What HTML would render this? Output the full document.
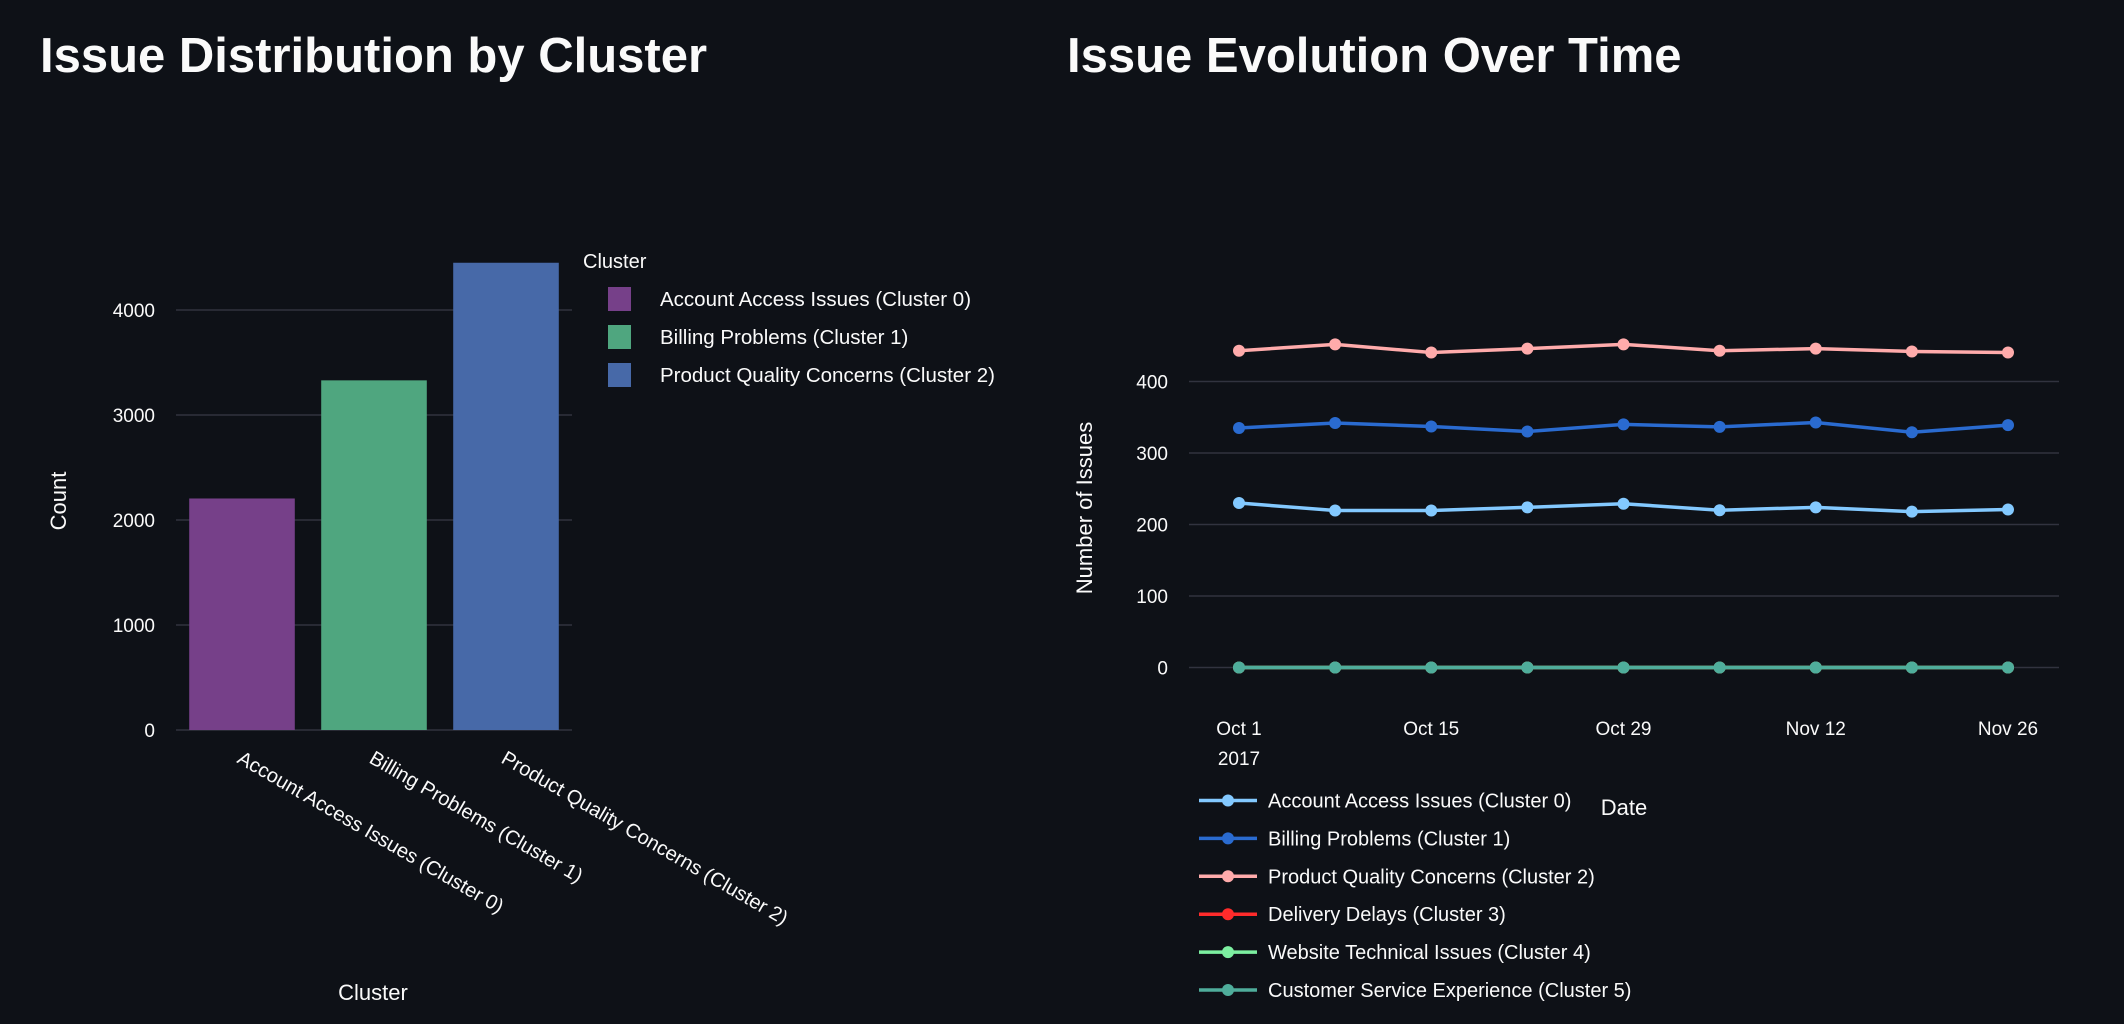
<!DOCTYPE html>
<html><head><meta charset="utf-8">
<style>
html,body{margin:0;padding:0;background:#0e1117;}
svg{display:block;font-family:"Liberation Sans",sans-serif;}
</style></head>
<body>
<svg id="root" width="2124" height="1024" viewBox="0 0 2124 1024">
<rect width="2124" height="1024" fill="#0e1117"/>
<text x="40" y="72" font-size="49" font-weight="bold" fill="#fafafa">Issue Distribution by Cluster</text>
<text x="1067" y="72" font-size="49" font-weight="bold" fill="#fafafa">Issue Evolution Over Time</text>
<g id="bar"></g>
<g id="line"></g>
</svg>
<script>
const NS="http://www.w3.org/2000/svg";
// ---- bar chart data ----
const barCategories=["Account Access Issues (Cluster 0)","Billing Problems (Cluster 1)","Product Quality Concerns (Cluster 2)"];
const barValues=[2205,3330,4450];
const barColors=["#764089","#4fa67f","#4769a8"];
const barTicks=[0,1000,2000,3000,4000];
// ---- line chart data ----
const dates=["2017-10-01","2017-10-08","2017-10-15","2017-10-22","2017-10-29","2017-11-05","2017-11-12","2017-11-19","2017-11-26"];
const seriesNames=["Account Access Issues (Cluster 0)","Billing Problems (Cluster 1)","Product Quality Concerns (Cluster 2)","Delivery Delays (Cluster 3)","Website Technical Issues (Cluster 4)","Customer Service Experience (Cluster 5)"];
const s0=[230,219.6,219.6,224,229,220,224,218,221];
const s1=[335,342,337,330,340,336.6,342.6,329,339];
const s2=[443,452,440.5,446,452,443,446,442,440.5];
const s3=[0,0,0,0,0,0,0,0,0];
const s4=[0,0,0,0,0,0,0,0,0];
const s5=[0,0,0,0,0,0,0,0,0];
const seriesColors=["#83c9ff","#2a6bd0","#ffabab","#ff2b2b","#7defa1","#4fad9b"];
const lineTicks=[0,100,200,300,400];
const xTickLabels=["Oct 1","Oct 15","Oct 29","Nov 12","Nov 26"];
const xTickIdx=[0,2,4,6,8];

function el(tag,attrs,parent,text){const e=document.createElementNS(NS,tag);for(const k in attrs)e.setAttribute(k,attrs[k]);if(text!==undefined)e.textContent=text;parent.appendChild(e);return e;}

// ---- bar chart ----
const bg=document.getElementById('bar');
const bx0=176,bx1=572,by0=730,bPer=0.105;
const by=v=>by0-v*bPer;
const bStep=(bx1-bx0)/barCategories.length;
const bx=i=>bx0+bStep*(i+0.5);
barTicks.forEach(t=>{
  const g=el('line',{x1:bx0,x2:bx1,y1:by(t),y2:by(t),stroke:'#31333f','stroke-width':1.5},bg);
  
  
  const l=el('text',{x:155,y:by(t)+7,'text-anchor':'end','font-size':19,fill:'#fafafa'},bg,String(t));
  
  
});
barValues.forEach((v,i)=>{
  const w=bStep*0.8;
  const r=el('rect',{x:bx(i)-w/2,y:by(v),width:w,height:by(0)-by(v),fill:barColors[i]},bg);
  
  
  const t=el('text',{transform:`translate(${bx(i)-6},${by0+32}) rotate(30)`,'font-size':20,fill:'#fafafa'},bg,barCategories[i]);
  
  
});
let t1=el('text',{transform:'translate(66,501) rotate(-90)','text-anchor':'middle','font-size':22,fill:'#fafafa'},bg,'Count');


t1=el('text',{x:373,y:1000,'text-anchor':'middle','font-size':22,fill:'#fafafa'},bg,'Cluster');


t1=el('text',{x:583,y:268,'font-size':20,fill:'#fafafa'},bg,'Cluster');


barCategories.forEach((c,i)=>{
  const y=299+i*38;
  const s=el('rect',{x:608,y:y-12,width:23,height:24,fill:barColors[i]},bg);
  
  
  const t=el('text',{x:660,y:y+7,'font-size':20.5,fill:'#fafafa'},bg,c);
  
  
});

// ---- line chart ----
const lg=document.getElementById('line');
const lx0=1189,lx1=2059,lFirst=1239,lLast=2008,ly0=667.5,lPer=0.715;
const lx=i=>lFirst+(lLast-lFirst)*i/(dates.length-1);
const ly=v=>ly0-v*lPer;
lineTicks.forEach(t=>{
  const g=el('line',{x1:lx0,x2:lx1,y1:ly(t),y2:ly(t),stroke:'#31333f','stroke-width':1.5},lg);
  
  
  const l=el('text',{x:1168,y:ly(t)+7,'text-anchor':'end','font-size':19,fill:'#fafafa'},lg,String(t));
  
  
});
xTickIdx.forEach((idx,k)=>{
  const t=el('text',{x:lx(idx),y:735,'text-anchor':'middle','font-size':19,fill:'#fafafa'},lg,xTickLabels[k]);
  
  
});
t1=el('text',{x:lx(0),y:765,'text-anchor':'middle','font-size':19,fill:'#fafafa'},lg,'2017');


const allSeries=[s0,s1,s2,s3,s4,s5];
allSeries.forEach((s,k)=>{
  const g=el('g',{},lg);
  
  
  const p=el('polyline',{points:s.map((v,i)=>lx(i)+','+ly(v)).join(' '),fill:'none',stroke:seriesColors[k],'stroke-width':3.5},g);
  
  
  s.forEach((v,i)=>{
    const c=el('circle',{cx:lx(i),cy:ly(v),r:6,fill:seriesColors[k]},g);
    
    
  });
});
t1=el('text',{transform:'translate(1092,508) rotate(-90)','text-anchor':'middle','font-size':22,fill:'#fafafa'},lg,'Number of Issues');


t1=el('text',{x:1624,y:815,'text-anchor':'middle','font-size':22,fill:'#fafafa'},lg,'Date');


seriesNames.forEach((n,k)=>{
  const y=800.5+k*37.9;
  const g=el('g',{},lg);
  
  
  el('line',{x1:1199,x2:1257,y1:y,y2:y,stroke:seriesColors[k],'stroke-width':3.5},g);
  el('circle',{cx:1228,cy:y,r:6,fill:seriesColors[k]},g);
  el('text',{x:1268,y:y+7,'font-size':20,fill:'#fafafa'},g,n);
});
</script>
</body></html>
